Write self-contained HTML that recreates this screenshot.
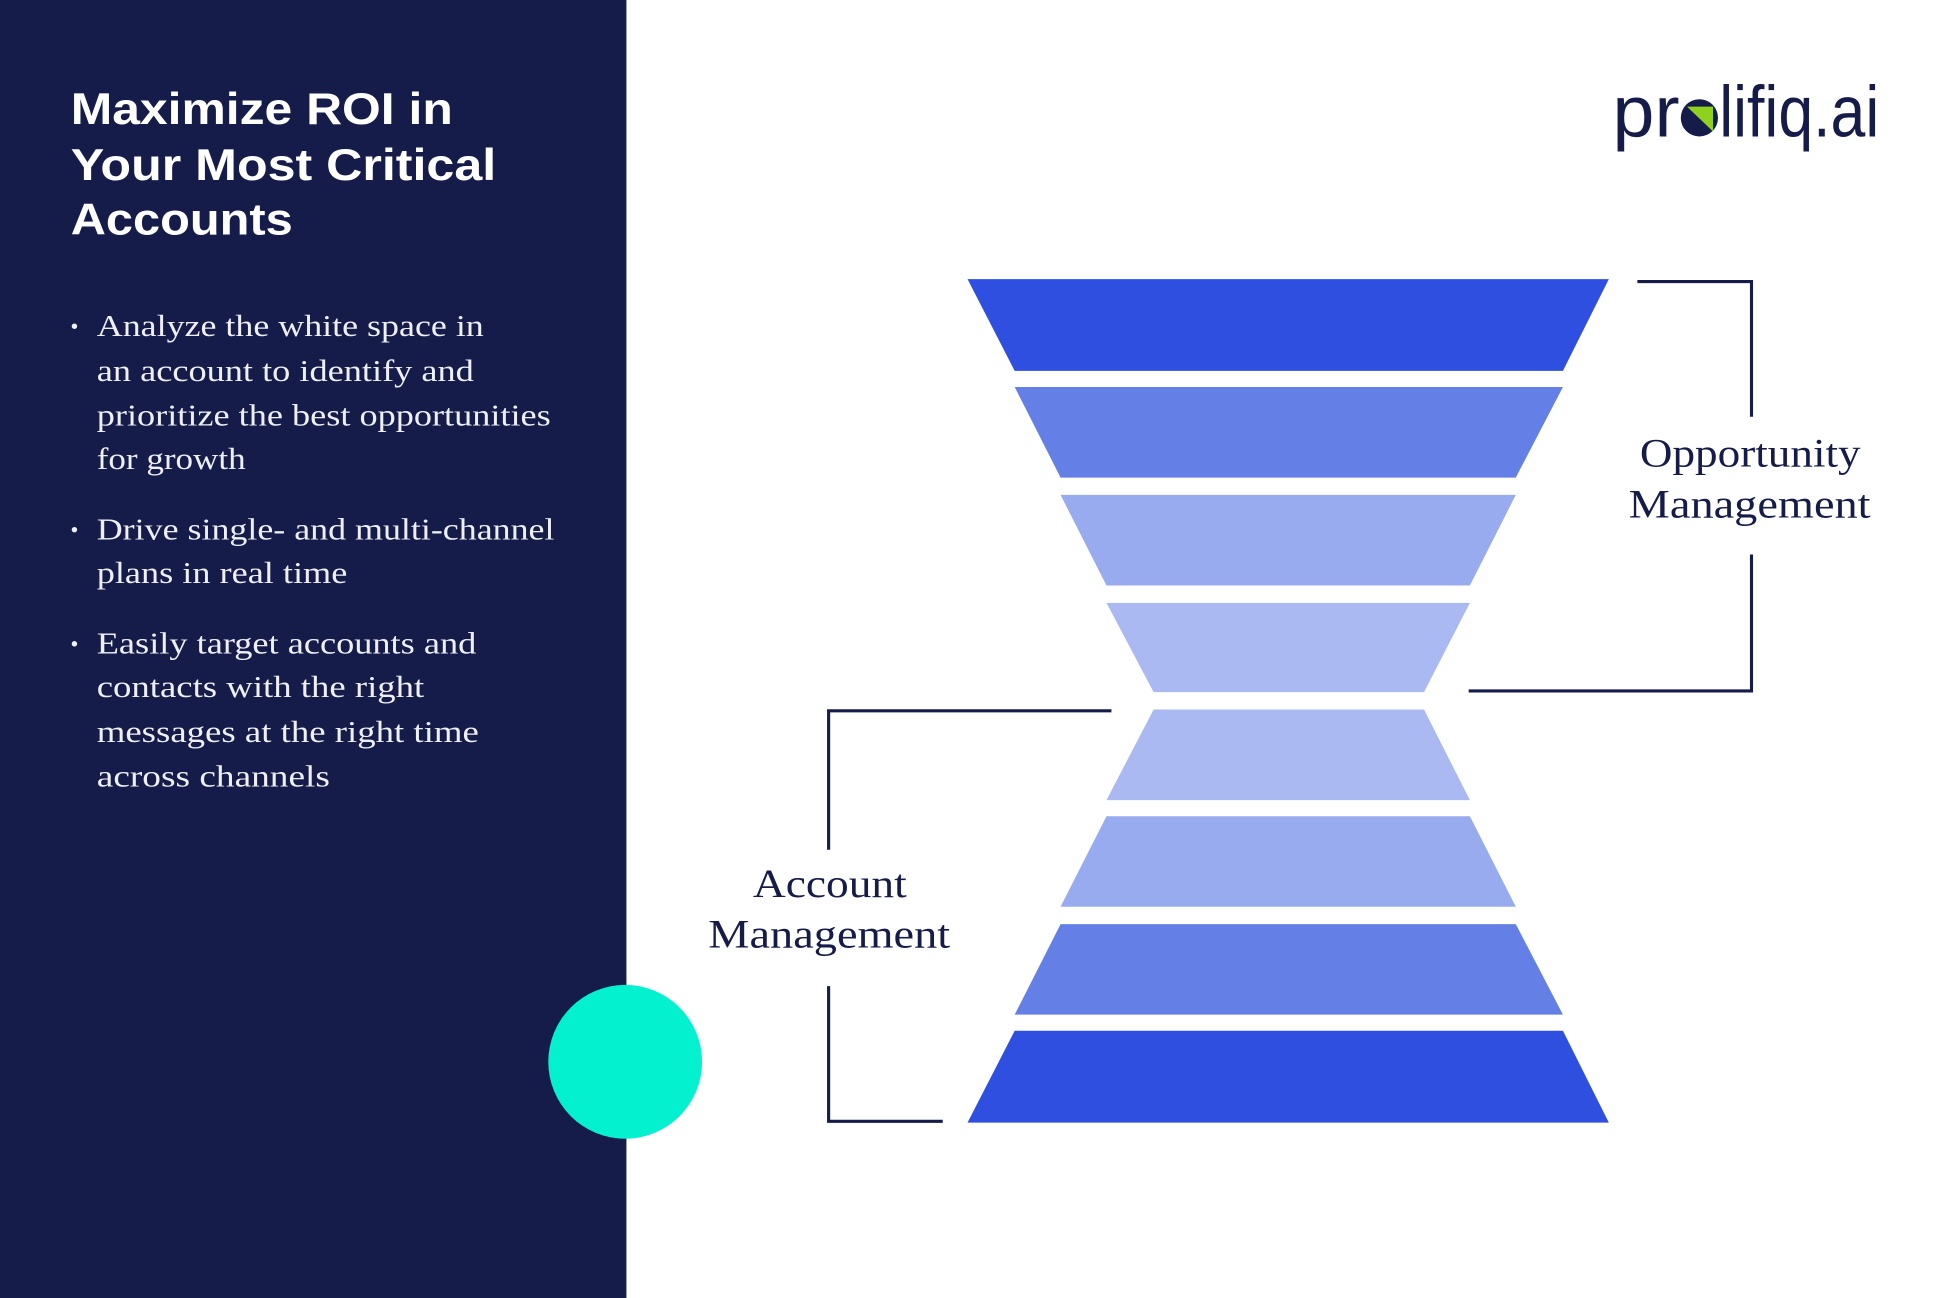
<!DOCTYPE html>
<html><head><meta charset="utf-8"><style>html,body{margin:0;padding:0;background:#fff}svg{display:block}</style></head>
<body>
<svg width="1945" height="1298" viewBox="0 0 1568 1046.4" preserveAspectRatio="none" xmlns="http://www.w3.org/2000/svg">
<rect x="0" y="0" width="1568" height="1046.4" fill="#fff"/>
<rect x="0" y="0" width="505" height="1046.4" fill="#161c4a"/>
<circle cx="504" cy="856" r="62" fill="#04f1cf"/>
<g font-family="Liberation Sans, sans-serif" font-weight="bold" font-size="36" fill="#fff">
<text x="57" y="100" textLength="308" lengthAdjust="spacingAndGlyphs">Maximize ROI in</text>
<text x="57" y="145" textLength="343" lengthAdjust="spacingAndGlyphs">Your Most Critical</text>
<text x="57" y="189" textLength="179" lengthAdjust="spacingAndGlyphs">Accounts</text>
</g>
<g fill="#eef0f6">
<circle cx="60" cy="263" r="2.2"/><circle cx="60" cy="427" r="2.2"/><circle cx="60" cy="519" r="2.2"/>
</g>
<g font-family="Liberation Serif, serif" font-size="25" fill="#eef0f6">
<text x="78" y="271" textLength="312" lengthAdjust="spacingAndGlyphs">Analyze the white space in</text>
<text x="78" y="307" textLength="304" lengthAdjust="spacingAndGlyphs">an account to identify and</text>
<text x="78" y="343" textLength="366" lengthAdjust="spacingAndGlyphs">prioritize the best opportunities</text>
<text x="78" y="378" textLength="120" lengthAdjust="spacingAndGlyphs">for growth</text>
<text x="78" y="435" textLength="369" lengthAdjust="spacingAndGlyphs">Drive single- and multi-channel</text>
<text x="78" y="470" textLength="202" lengthAdjust="spacingAndGlyphs">plans in real time</text>
<text x="78" y="527" textLength="306" lengthAdjust="spacingAndGlyphs">Easily target accounts and</text>
<text x="78" y="562" textLength="264" lengthAdjust="spacingAndGlyphs">contacts with the right</text>
<text x="78" y="598" textLength="308" lengthAdjust="spacingAndGlyphs">messages at the right time</text>
<text x="78" y="634" textLength="188" lengthAdjust="spacingAndGlyphs">across channels</text>
</g>
<!-- logo -->
<g font-family="Liberation Sans, sans-serif" font-size="58" fill="#161c4a">
<text x="1300" y="110" textLength="54" lengthAdjust="spacingAndGlyphs">pr</text>
<text x="1386" y="110" textLength="129" lengthAdjust="spacingAndGlyphs">lifiq.ai</text>
</g>
<circle cx="1370" cy="95" r="15" fill="#161c4a"/>
<polygon points="1360,86 1381,86 1381,106" fill="#8fd11f"/>
<!-- funnel -->
<polygon points="780,225 1297,225 1260,299 818,299" fill="#2e4fe0"/>
<polygon points="818,312 1260,312 1222,385 855,385" fill="#6480e6"/>
<polygon points="855,399 1222,399 1185,472 892,472" fill="#98abee"/>
<polygon points="892,486 1185,486 1148,558 930,558" fill="#abb9f2"/>
<polygon points="930,572 1148,572 1185,645 892,645" fill="#abb9f2"/>
<polygon points="892,658 1185,658 1222,731 855,731" fill="#98abee"/>
<polygon points="855,745 1222,745 1260,818 818,818" fill="#6480e6"/>
<polygon points="818,831 1260,831 1297,905 780,905" fill="#2e4fe0"/>
<!-- brackets -->
<g stroke="#161c4a" stroke-width="2.5" fill="none">
<polyline points="1320,227 1412,227 1412,336"/>
<polyline points="1412,447 1412,557 1184,557"/>
<polyline points="896,573 668,573 668,685"/>
<polyline points="668,795 668,904 760,904"/>
</g>
<g font-family="Liberation Serif, serif" font-size="32" fill="#161c4a">
<text x="1322" y="376" textLength="178" lengthAdjust="spacingAndGlyphs">Opportunity</text>
<text x="1313" y="417" textLength="195" lengthAdjust="spacingAndGlyphs">Management</text>
<text x="607" y="723" textLength="124" lengthAdjust="spacingAndGlyphs">Account</text>
<text x="571" y="764" textLength="195" lengthAdjust="spacingAndGlyphs">Management</text>
</g>
</svg>
</body></html>
